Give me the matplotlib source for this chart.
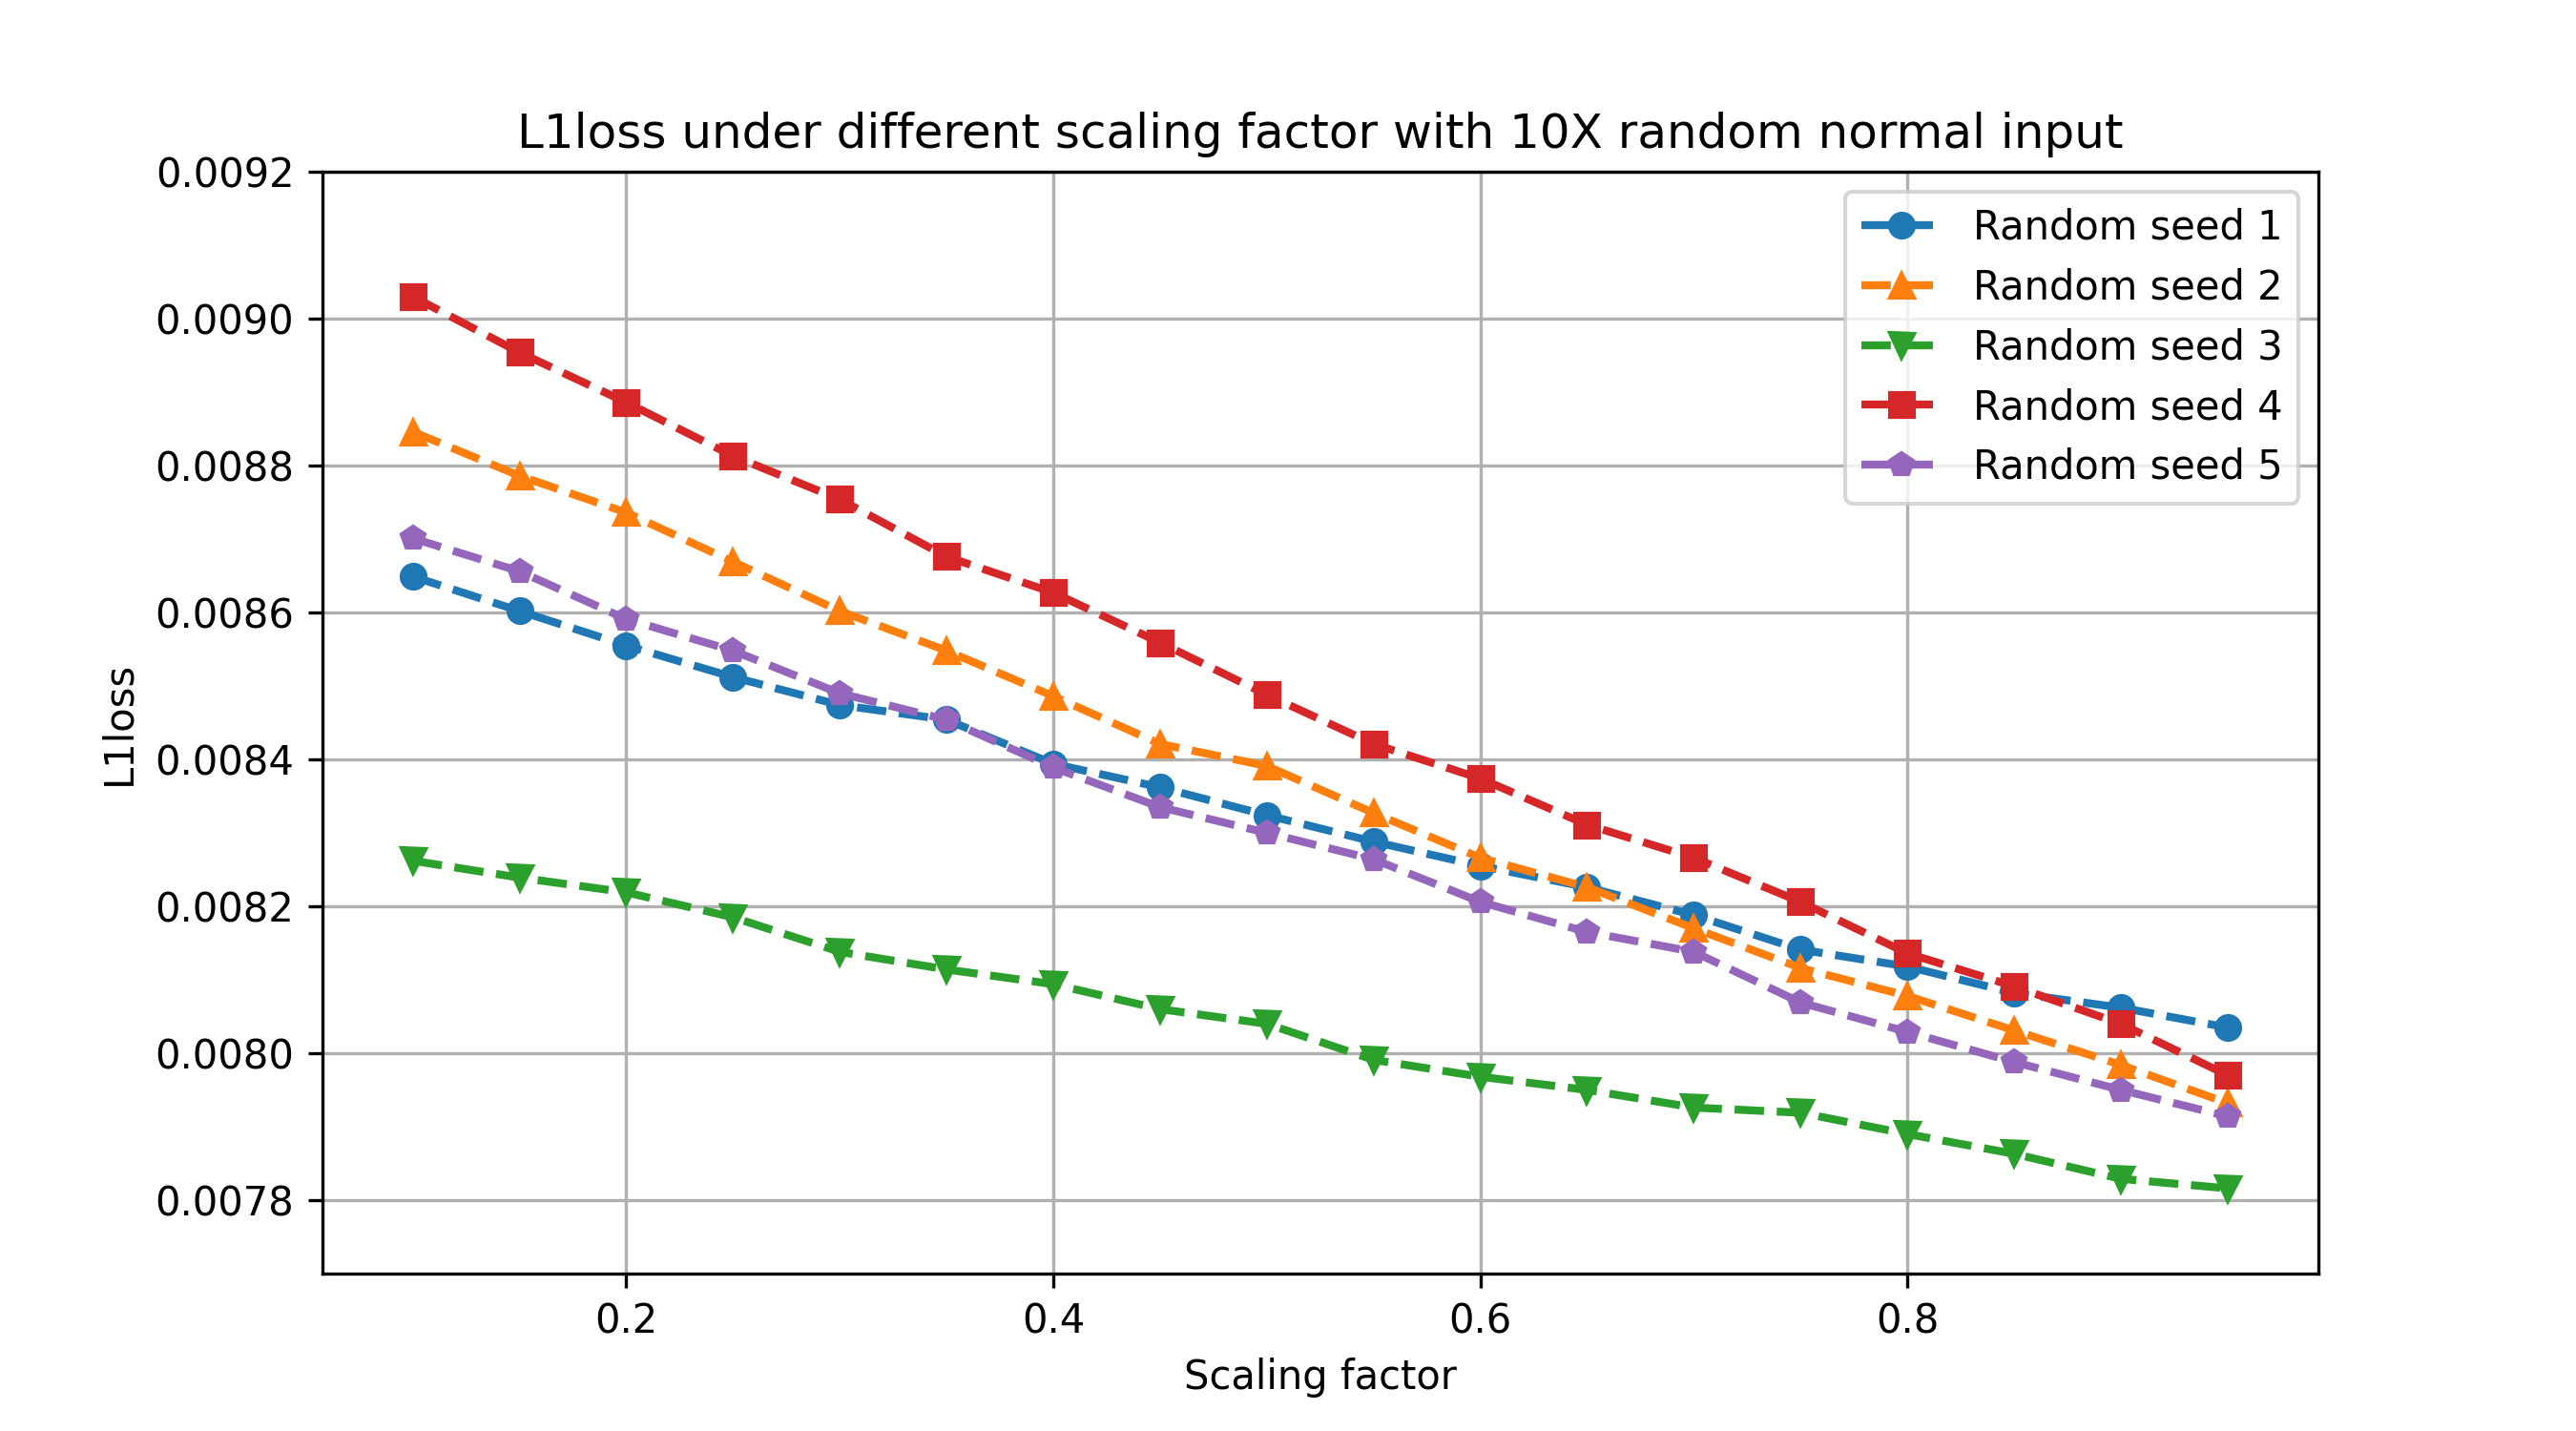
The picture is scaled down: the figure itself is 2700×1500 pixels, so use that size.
import numpy as np
import matplotlib.pyplot as plt

scales = [0.1, 0.15, 0.2, 0.25, 0.3, 0.35, 0.4, 0.45, 0.5, 0.55,
          0.6, 0.65, 0.7, 0.75, 0.8, 0.85, 0.9, 0.95]

seed1 = [0.008649, 0.008602, 0.008555, 0.008512, 0.008474, 0.008454, 0.008394, 0.008362, 0.008324,
         0.008288, 0.008255, 0.008226, 0.008188, 0.008141, 0.008118, 0.008082, 0.008062, 0.008035]
seed2 = [0.008846, 0.008786, 0.008736, 0.008669, 0.008602, 0.008548, 0.008486, 0.008421, 0.008391,
         0.008327, 0.008266, 0.008226, 0.008170, 0.008116, 0.008078, 0.008031, 0.007984, 0.007932]
seed3 = [0.008262, 0.008239, 0.008219, 0.008185, 0.008138, 0.008114, 0.008094, 0.008060, 0.008040,
         0.007991, 0.007968, 0.007950, 0.007926, 0.007919, 0.007890, 0.007863, 0.007829, 0.007816]
seed4 = [0.009030, 0.008954, 0.008886, 0.008813, 0.008754, 0.008676, 0.008627, 0.008559, 0.008488,
         0.008421, 0.008374, 0.008311, 0.008266, 0.008206, 0.008136, 0.008091, 0.008040, 0.007970]
seed5 = [0.008701, 0.008656, 0.008591, 0.008548, 0.008490, 0.008454, 0.008389, 0.008335, 0.008300,
         0.008264, 0.008206, 0.008165, 0.008138, 0.008069, 0.008029, 0.007988, 0.007950, 0.007914]

plt.figure(figsize=(9, 5))
plt.plot(scales, seed1, "o--", lw=2, label="Random seed 1")
plt.plot(scales, seed2, "^--", lw=2, label="Random seed 2")
plt.plot(scales, seed3, "v--", lw=2, label="Random seed 3")
plt.plot(scales, seed4, "s--", lw=2, label="Random seed 4")
plt.plot(scales, seed5, "p--", lw=2, label="Random seed 5")
plt.ylim(0.0077, 0.0092)
plt.yticks(np.arange(0.0078, 0.00921, 0.0002))
plt.grid(True)
plt.xlabel("Scaling factor")
plt.ylabel("L1loss")
plt.title("L1loss under different scaling factor with 10X random normal input")
plt.legend()
plt.savefig("out.png", dpi=300)
